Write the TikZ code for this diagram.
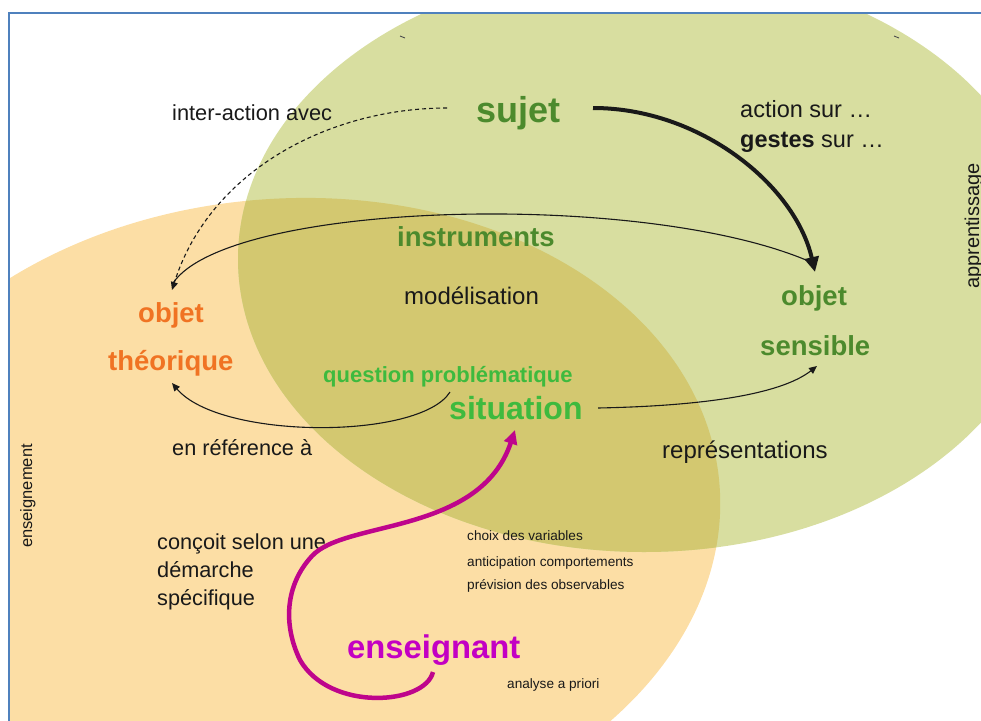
\documentclass[tikz,border=0pt]{standalone}
\usepackage{fontspec}
\setmainfont{Liberation Sans}
\usetikzlibrary{arrows.meta}
\definecolor{orfill}{RGB}{252,222,165}
\definecolor{grfill}{RGB}{216,222,160}
\definecolor{ovfill}{RGB}{211,200,112}
\definecolor{framec}{RGB}{79,129,189}
\definecolor{darkgr}{RGB}{76,138,45}
\definecolor{brightgr}{RGB}{62,186,62}
\definecolor{orangetx}{RGB}{240,115,35}
\definecolor{magtx}{RGB}{195,0,195}
\definecolor{magarr}{RGB}{190,5,140}
\definecolor{ink}{RGB}{25,25,25}
\newcommand{\fsz}[1]{\fontsize{#1}{#1}\selectfont}
\begin{document}
\begin{tikzpicture}[x=1pt,y=-1pt,
  txt/.style={inner sep=0pt, anchor=base west, text=ink},
  thinarrow/.style={draw=ink, line width=1.1pt, -{Triangle[length=8pt,width=7pt]}},
  thickarrow/.style={draw=ink, line width=4pt, -{Triangle[length=15pt,width=14pt]}},
  magarrow/.style={draw=magarr, line width=4.5pt, -{Triangle[length=14pt,width=13pt]}},
  dasharrow/.style={draw=ink, line width=1.1pt, dash pattern=on 4pt off 3pt, -{Triangle[length=8pt,width=7pt]}},
  orshape/.style={rotate around={5:(281,521)}}]
\useasboundingbox (0,0) rectangle (981,720);
% backgrounds
\begin{scope}
  \clip (9,13) rectangle (981,720);
  \fill[orfill, orshape] (281,521) ellipse [x radius=440pt, y radius=322pt];
  \fill[grfill] (644,259) ellipse [x radius=406pt, y radius=293pt];
  \begin{scope}
    \clip[orshape] (281,521) ellipse [x radius=440pt, y radius=322pt];
    \fill[ovfill] (644,259) ellipse [x radius=406pt, y radius=293pt];
  \end{scope}
\end{scope}
\draw[framec, line width=2.6pt] (9,730) -- (9,13) -- (990,13);
\draw[gray!60!black, line width=0.9pt] (400,36) -- (405,38);
\draw[gray!60!black, line width=0.9pt] (894,36) -- (899,38);

% texts
\node[txt, font=\fsz{21.8}] (inter) at (172,120) {inter-action avec};
\node[txt, font=\fsz{36}\bfseries, text=darkgr] (sujet) at (476,122) {sujet};
\node[txt, font=\fsz{23.5}] (action) at (740,117) {action sur …};
\node[txt, font=\fsz{23.5}] (gestes) at (740,147) {\textbf{gestes} sur …};
\node[txt, font=\fsz{27.5}\bfseries, text=darkgr] (instr) at (397,246) {instruments};
\node[txt, font=\fsz{24}] (model) at (404,304) {modélisation};
\node[txt, font=\fsz{27.5}\bfseries, text=orangetx] (objt1) at (138,322) {objet};
\node[txt, font=\fsz{27.5}\bfseries, text=orangetx] (objt2) at (108,370) {théorique};
\node[txt, font=\fsz{27.5}\bfseries, text=darkgr] (objs1) at (781,305) {objet};
\node[txt, font=\fsz{27.5}\bfseries, text=darkgr] (objs2) at (760,355) {sensible};
\node[txt, font=\fsz{22}\bfseries, text=brightgr] (qp) at (323,382) {question problématique};
\node[txt, font=\fsz{32}\bfseries, text=brightgr] (sit) at (449,419) {situation};
\node[txt, font=\fsz{21.7}] (ref) at (172,455) {en référence à};
\node[txt, font=\fsz{24}] (repr) at (662,458) {représentations};
\node[txt, font=\fsz{21.7}] (conc1) at (157,549) {conçoit selon une};
\node[txt, font=\fsz{21.7}] (conc2) at (157,577) {démarche};
\node[txt, font=\fsz{21.7}] (conc3) at (157,605) {spécifique};
\node[txt, font=\fsz{13.6}] (choix) at (467,540) {choix des variables};
\node[txt, font=\fsz{13.6}] (antic) at (467,566) {anticipation comportements};
\node[txt, font=\fsz{13.6}] (prev) at (467,589) {prévision des observables};
\node[txt, font=\fsz{32.8}\bfseries, text=magtx] (ens) at (347,658) {enseignant};
\node[txt, font=\fsz{13.6}] (apriori) at (507,688) {analyse a priori};
\node[inner sep=0pt, anchor=base, rotate=90, text=ink, font=\fsz{16.5}] (enseig) at (32,496) {enseignement};
\node[inner sep=0pt, anchor=base, rotate=90, text=ink, font=\fsz{20}] (appr) at (979,226) {apprentissage};

% connector ends
\coordinate (sujetL) at (447,108);
\coordinate (sujetR) at (593,108);
\coordinate (theoTop) at (172,290);
\coordinate (theoTop2) at (173,283);
\coordinate (theoBot) at (172,383);
\coordinate (sensTop) at (815,272);
\coordinate (sensTop2) at (813,263);
\coordinate (sensBot) at (817,366);
\coordinate (qpEnd) at (450,392);
\coordinate (sitR) at (598,408);
\coordinate (sitBot) at (515,430);
\coordinate (ensBot) at (433,672);

% connectors
\draw[dasharrow] (sujetL) .. controls (330,108) and (210,170) .. (theoTop);
\draw[draw=ink, line width=1.1pt] (theoTop2) .. controls (230,200) and (650,190) .. (sensTop2);
\draw[thickarrow] (sujetR) .. controls (700,108) and (795,185) .. (sensTop);
\draw[thinarrow] (qpEnd) .. controls (420,440) and (220,440) .. (theoBot);
\draw[thinarrow] (sitR) .. controls (700,406) and (780,395) .. (sensBot);
\draw[magarrow] (ensBot) .. controls (425,705) and (330,712) .. (300,660)
   .. controls (283,625) and (285,585) .. (312,556)
   .. controls (345,520) and (480,535) .. (sitBot);
\end{tikzpicture}
\end{document}
